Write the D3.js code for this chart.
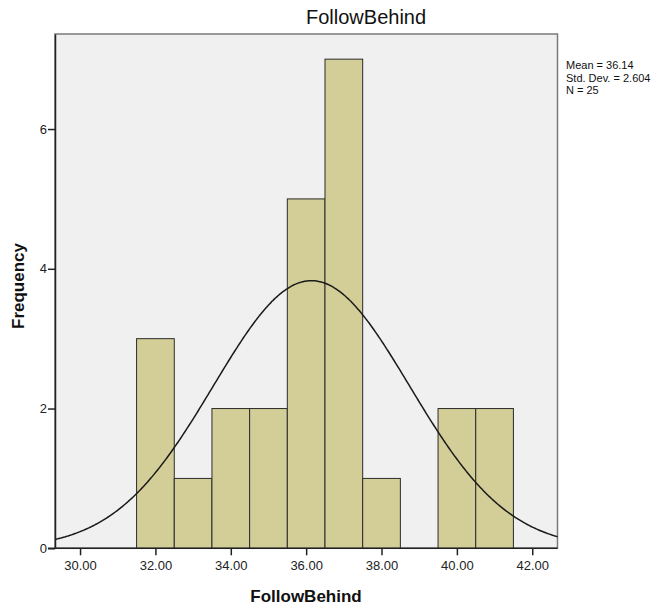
<!DOCTYPE html>
<html><head><meta charset="utf-8">
<script src="https://cdn.jsdelivr.net/npm/d3@7/dist/d3.min.js"></script>
<style>body{margin:0;background:#fff;} text{font-family:"Liberation Sans",Arial,sans-serif;}</style>
</head><body><svg id="c" width="668" height="610"></svg>
<script>
const binStarts = [31.5, 32.5, 33.5, 34.5, 35.5, 36.5, 37.5, 38.5, 39.5, 40.5];
const frequencies = [3, 1, 2, 2, 5, 7, 1, 0, 2, 2];
const binWidth = 1;
const xTicks = [30, 32, 34, 36, 38, 40, 42];
const yTicks = [0, 2, 4, 6];
const statMean = 36.14, statSD = 2.604, statN = 25;
const statLines = ["Mean = 36.14", "Std. Dev. = 2.604", "N = 25"];
const chartTitle = "FollowBehind", xTitle = "FollowBehind", yTitle = "Frequency";

const L = 55, R = 557.5, T = 34, B = 548.3;
const svg = d3.select("#c");
const x = d3.scaleLinear().domain([29.335, 42.67]).range([L, R]);
const y = d3.scaleLinear().domain([0, 7.36]).range([B, T]);

svg.append("rect").attr("x", L).attr("y", T).attr("width", R - L).attr("height", B - T)
  .attr("fill", "#f0f0f0").attr("stroke", "#7a7a7a").attr("stroke-width", 1.5);

const data = binStarts.map((s, i) => ({s, f: frequencies[i]})).filter(d => d.f > 0);
svg.append("g").selectAll("rect").data(data).join("rect")
  .attr("x", d => x(d.s)).attr("y", d => y(d.f))
  .attr("width", d => x(d.s + binWidth) - x(d.s)).attr("height", d => y(0) - y(d.f))
  .attr("fill", "#d3ce97").attr("stroke", "#2b2b2b").attr("stroke-width", 1);

// normal curve overlay from the reported mean / sd
const dens = v => statN * binWidth * Math.exp(-0.5 * ((v - statMean) / statSD) ** 2) / (statSD * Math.sqrt(2 * Math.PI));
const xs = d3.range(0, 401).map(i => 29.335 + (42.67 - 29.335) * i / 400);
svg.append("path").datum(xs)
  .attr("d", d3.line().x(v => x(v)).y(v => y(dens(v))).curve(d3.curveBasis))
  .attr("fill", "none").attr("stroke", "#1a1a1a").attr("stroke-width", 1.5);

// axes
const xa = svg.append("g").attr("transform", `translate(0,${B})`)
  .call(d3.axisBottom(x).tickValues(xTicks).tickFormat(d3.format(".2f")).tickSize(7).tickSizeOuter(0));
const ya = svg.append("g").attr("transform", `translate(${L},0)`)
  .call(d3.axisLeft(y).tickValues(yTicks).tickFormat(d3.format("d")).tickSize(7).tickSizeOuter(0));
[xa, ya].forEach(a => {
  a.select(".domain").attr("stroke", "#222").attr("stroke-width", 1.5);
  a.selectAll(".tick line").attr("stroke", "#222").attr("stroke-width", 1.5);
  a.selectAll(".tick text").attr("fill", "#222").style("font-size", "13px").style("font-family", "Liberation Sans, Arial, sans-serif");
});
xa.selectAll(".tick text").attr("dy", "0.9em");
ya.selectAll(".tick text").attr("x", -8);
xa.select(".domain").attr("d", `M${L - 7},0H${R}`);

svg.append("text").attr("x", 306).attr("y", 24).attr("font-size", 20).attr("fill", "#111").text(chartTitle);
svg.append("text").attr("x", 306).attr("y", 602).attr("text-anchor", "middle").attr("font-size", 17)
  .attr("font-weight", "bold").attr("fill", "#111").text(xTitle);
svg.append("text").attr("transform", "translate(24,286) rotate(-90)").attr("text-anchor", "middle")
  .attr("font-size", 17).attr("font-weight", "bold").attr("fill", "#111").text(yTitle);

svg.append("g").selectAll("text").data(statLines).join("text")
  .attr("x", 566).attr("y", (d, i) => 69 + i * 12.6).attr("font-size", 11).attr("fill", "#111").text(d => d);
</script></body></html>
